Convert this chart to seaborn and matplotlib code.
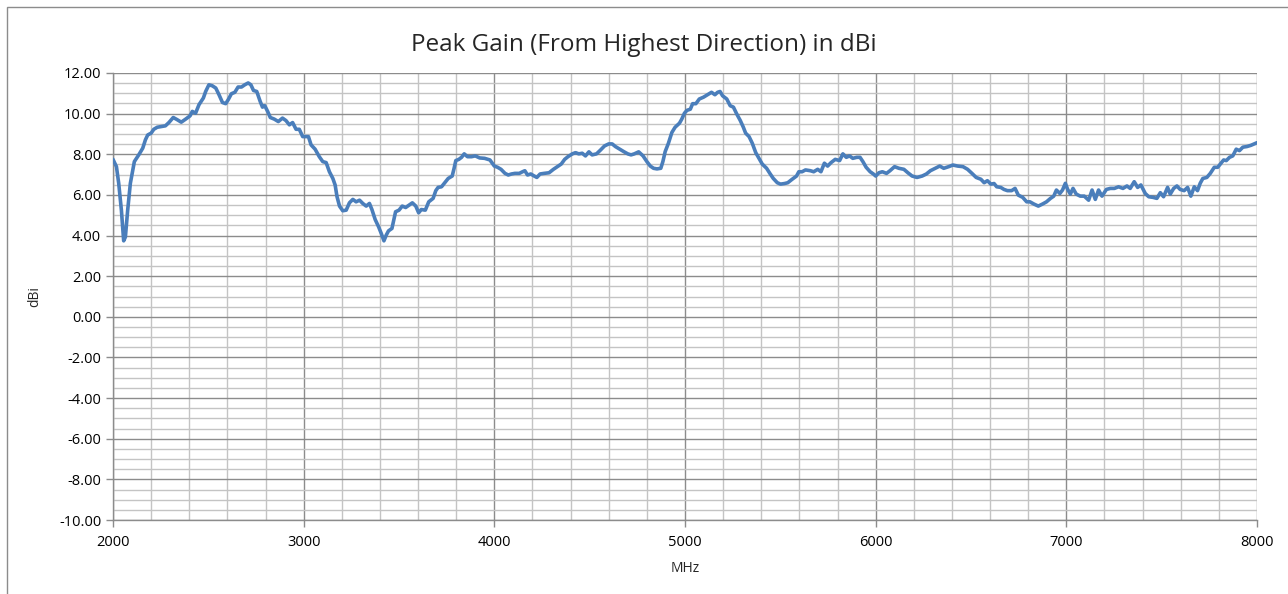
import matplotlib
matplotlib.use('Agg')
import matplotlib.pyplot as plt
from matplotlib.patches import Rectangle
from matplotlib.ticker import MultipleLocator, FormatStrFormatter
import seaborn as sns
import pandas as pd

freq_mhz = [
    2000, 2018, 2030, 2044, 2056, 2065, 2077, 2091, 2112, 2135, 2156, 2170, 2182,
    2200, 2214, 2232, 2258, 2275, 2293, 2316, 2337, 2358, 2381, 2404, 2416, 2433,
    2451, 2474, 2486, 2503, 2521, 2539, 2556, 2574, 2591, 2604, 2621, 2639, 2656,
    2674, 2691, 2709, 2723, 2737, 2754, 2772, 2784, 2796, 2811, 2825, 2846, 2867,
    2889, 2907, 2925, 2942, 2960, 2977, 2995,
    3012, 3025, 3039, 3060, 3082, 3100, 3118, 3135, 3153, 3165, 3175, 3188, 3205,
    3223, 3240, 3258, 3275, 3293, 3310, 3328, 3345, 3358, 3375, 3393, 3407, 3421,
    3433, 3445, 3463, 3474, 3482, 3500, 3517, 3535, 3553, 3570, 3588, 3603, 3617,
    3638, 3656, 3679, 3693, 3705, 3723, 3740, 3758, 3779, 3789, 3798, 3814, 3828,
    3842, 3859, 3880, 3900, 3923, 3949, 3977,
    4000, 4017, 4035, 4056, 4073, 4090, 4108, 4131, 4148, 4160, 4174, 4191, 4209,
    4223, 4240, 4261, 4287, 4310, 4331, 4351, 4369, 4386, 4409, 4426, 4443, 4461,
    4478, 4496, 4513, 4536, 4557, 4578, 4600, 4618, 4635, 4658, 4679, 4700, 4717,
    4734, 4757, 4780, 4800, 4818, 4835, 4853, 4873, 4884, 4896, 4913, 4931, 4948,
    4971, 4983,
    4997, 5010, 5028, 5040, 5057, 5075, 5097, 5118, 5139, 5157, 5171, 5184, 5197,
    5219, 5237, 5254, 5271, 5290, 5306, 5318, 5336, 5353, 5371, 5388, 5405, 5428,
    5445, 5463, 5484, 5501, 5522, 5539, 5562, 5585, 5597, 5614, 5632, 5658, 5675,
    5696, 5713, 5731, 5748, 5766, 5788, 5811, 5828, 5846, 5863, 5880, 5901, 5918,
    5933, 5950, 5971, 5988,
    6000, 6017, 6035, 6057, 6075, 6099, 6122, 6148, 6169, 6191, 6217, 6244, 6266,
    6287, 6313, 6336, 6357, 6383, 6405, 6430, 6458, 6482, 6505, 6527, 6552, 6569,
    6586, 6604, 6621, 6635, 6656, 6673, 6691, 6713, 6731, 6748, 6771, 6792, 6809,
    6830, 6853, 6875, 6896, 6917, 6934, 6948, 6966, 6980,
    6995, 7007, 7021, 7035, 7052, 7073, 7094, 7117, 7135, 7152, 7169, 7187, 7210,
    7231, 7252, 7274, 7297, 7318, 7335, 7356, 7374, 7391, 7414, 7432, 7454, 7475,
    7493, 7510, 7531, 7545, 7563, 7580, 7597, 7618, 7636, 7653, 7671, 7688, 7702,
    7716, 7737, 7755, 7776, 7794, 7808, 7825, 7839, 7856, 7873, 7891, 7908, 7926,
    7947, 7968, 7985, 8000,
]
gain_dbi = [
    7.75, 7.39, 6.57, 5.25, 3.74, 3.93, 5.25, 6.57, 7.64, 7.97, 8.30, 8.71, 8.95,
    9.04, 9.23, 9.33, 9.37, 9.40, 9.56, 9.81, 9.70, 9.58, 9.73, 9.89, 10.11, 10.02,
    10.44, 10.77, 11.09, 11.42, 11.37, 11.26, 10.93, 10.55, 10.49, 10.68, 10.98, 11.05, 11.31,
    11.31, 11.42, 11.51, 11.42, 11.14, 11.09, 10.60, 10.32, 10.39, 10.11, 9.81, 9.73, 9.61,
    9.78, 9.66, 9.45, 9.56, 9.23, 9.23, 8.87,
    8.87, 8.87, 8.46, 8.25, 7.88, 7.64, 7.59, 7.14, 6.81, 6.49, 5.91, 5.45, 5.22,
    5.25, 5.61, 5.78, 5.66, 5.74, 5.58, 5.45, 5.58, 5.28, 4.79, 4.43, 4.10, 3.74,
    4.02, 4.23, 4.35, 4.84, 5.17, 5.25, 5.45, 5.38, 5.50, 5.61, 5.45, 5.12, 5.28,
    5.25, 5.66, 5.83, 6.21, 6.37, 6.40, 6.60, 6.81, 6.93, 7.31, 7.69, 7.75, 7.85,
    8.02, 7.88, 7.88, 7.92, 7.82, 7.80, 7.72,
    7.42, 7.36, 7.26, 7.06, 6.98, 7.03, 7.06, 7.06, 7.14, 7.19, 6.98, 7.03, 6.93,
    6.86, 7.03, 7.06, 7.09, 7.26, 7.39, 7.52, 7.75, 7.88, 8.02, 8.08, 8.02, 8.05,
    7.92, 8.12, 7.97, 8.02, 8.21, 8.41, 8.51, 8.51, 8.38, 8.25, 8.13, 8.02, 7.97,
    8.02, 8.12, 7.92, 7.64, 7.42, 7.31, 7.28, 7.31, 7.64, 8.13, 8.54, 9.07, 9.33,
    9.53, 9.73,
    10.02, 10.16, 10.22, 10.49, 10.49, 10.72, 10.81, 10.93, 11.05, 10.93, 11.05, 11.09, 10.88,
    10.72, 10.39, 10.32, 9.99, 9.66, 9.33, 9.04, 8.87, 8.54, 8.08, 7.80, 7.52, 7.31,
    7.06, 6.81, 6.60, 6.53, 6.56, 6.60, 6.77, 6.93, 7.14, 7.14, 7.23, 7.19, 7.14,
    7.26, 7.14, 7.56, 7.42, 7.59, 7.75, 7.69, 8.02, 7.85, 7.92, 7.80, 7.85, 7.85,
    7.64, 7.36, 7.14, 7.03,
    6.93, 7.09, 7.14, 7.06, 7.19, 7.39, 7.31, 7.26, 7.09, 6.93, 6.86, 6.93, 7.03,
    7.19, 7.31, 7.42, 7.31, 7.39, 7.47, 7.42, 7.39, 7.26, 7.06, 6.86, 6.77, 6.60,
    6.70, 6.53, 6.56, 6.40, 6.37, 6.27, 6.21, 6.21, 6.32, 5.99, 5.88, 5.66, 5.66,
    5.55, 5.45, 5.55, 5.66, 5.83, 5.94, 6.24, 6.07, 6.24,
    6.57, 6.27, 6.04, 6.32, 6.04, 5.94, 5.94, 5.74, 6.24, 5.78, 6.24, 5.94, 6.27,
    6.32, 6.32, 6.40, 6.32, 6.44, 6.32, 6.65, 6.37, 6.49, 6.07, 5.91, 5.88, 5.83,
    6.11, 5.91, 6.37, 6.04, 6.32, 6.44, 6.27, 6.21, 6.37, 5.94, 6.40, 6.21, 6.57,
    6.81, 6.86, 7.06, 7.36, 7.36, 7.52, 7.72, 7.69, 7.85, 7.92, 8.25, 8.18, 8.35,
    8.38, 8.44, 8.51, 8.57,
]

title = "Peak Gain (From Highest Direction) in dBi"
x_label = "MHz"
y_label = "dBi"

sns.set_theme(style="white")
plt.rcParams['font.family'] = ['Open Sans', 'DejaVu Sans']

df = pd.DataFrame({"MHz": freq_mhz, "dBi": gain_dbi})

fig = plt.figure(figsize=(12.88, 5.94), dpi=100)
ax = fig.add_axes([113 / 1288, 1 - 520 / 594, 1144 / 1288, 447 / 594])

sns.lineplot(data=df, x="MHz", y="dBi", ax=ax, color="#4a7ebb", linewidth=2.6,
             sort=False, zorder=5)

ax.set_xlim(2000, 8000)
ax.set_ylim(-10, 12)
ax.xaxis.set_major_locator(MultipleLocator(1000))
ax.xaxis.set_minor_locator(MultipleLocator(200))
ax.yaxis.set_major_locator(MultipleLocator(2))
ax.yaxis.set_minor_locator(MultipleLocator(0.5))
ax.yaxis.set_major_formatter(FormatStrFormatter('%.2f'))

# 격자: 주 눈금은 진하게, 보조 눈금은 연하게
ax.grid(which='major', color='#8c8c8c', linewidth=1.0)
ax.grid(which='minor', color='#c4c4c4', linewidth=1.0)
ax.set_axisbelow(True)

for side in ['top', 'right']:
    ax.spines[side].set_visible(False)
for side in ['left', 'bottom']:
    ax.spines[side].set_color('#8c8c8c')
    ax.spines[side].set_linewidth(1.0)

ax.tick_params(axis='both', which='major', length=5, width=1, color='#8c8c8c',
               labelsize=10.5, labelcolor='#000000', direction='out',
               bottom=True, left=True)
ax.tick_params(axis='both', which='minor', length=0)
ax.tick_params(axis='x', pad=6)

ax.set_xlabel(x_label, fontsize=10, labelpad=8)
ax.set_ylabel(y_label, fontsize=10, labelpad=12)
fig.suptitle(title, fontsize=17.5, y=0.944)

# 차트 영역 테두리
fig.patches.append(Rectangle((7 / 1288, -0.1), 1.2, 1.1 - 7 / 594,
                             transform=fig.transFigure, fill=False,
                             edgecolor='#8c8c8c', linewidth=1.0))

fig.savefig("out.png", dpi=100)
plt.close(fig)
